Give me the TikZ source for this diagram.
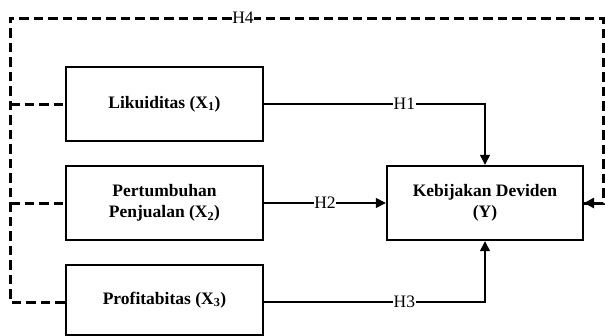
\documentclass[tikz,border=0pt]{standalone}
\usepackage{fontspec}
\setmainfont{Liberation Serif}
\usetikzlibrary{arrows.meta}
\begin{document}
\begin{tikzpicture}[x=1pt,y=-1pt,
  box/.style={draw,line width=2.4pt,minimum width=197pt,align=center,font=\fontsize{17.5}{21}\selectfont\bfseries,inner sep=0pt},
  conn/.style={line width=1.3pt},
  dashconn/.style={line width=3pt,dash pattern=on 9.5pt off 5pt},
  tip/.style={-{Triangle[length=10pt,width=10pt]}},
  hlab/.style={fill=white,inner sep=0.8pt,font=\fontsize{17.5}{19}\selectfont}]
\useasboundingbox (0,0) rectangle (605,335);
\node[box,minimum height=74pt] (x1) at (164.5,104) {Likuiditas (X\textsubscript{1})};
\node[box,minimum height=74pt] (x2) at (164.5,203) {Pertumbuhan\\Penjualan (X\textsubscript{2})};
\node[box,minimum height=70pt] (x3) at (164.5,300) {Profitabitas (X\textsubscript{3})};
\node[box,minimum width=196pt,minimum height=74pt] (y) at (485,203) {Kebijakan Deviden\\(Y)};
\coordinate (c1) at (485,104);
\coordinate (c3) at (485,302);
\coordinate (tl) at (10,18);
\coordinate (tr) at (603,18);
\coordinate (rr) at (603,203);
\coordinate (l1) at (10,104);
\coordinate (l2) at (10,203);
\coordinate (l3) at (10,302);
% solid connectors
\draw[conn,tip] (x1.east) -- node[hlab,pos=0.635]{H1} (c1) -- (y.north);
\draw[conn,tip] (x2.east) -- node[hlab,pos=0.5]{H2} (y.west);
\draw[conn,tip] (x3.east |- c3) -- node[hlab,pos=0.635]{H3} (c3) -- (y.south);
% dashed
\draw[dashconn] (x3.west |- l3) -- (l3) -- (tl) -- node[hlab,pos=0.393,inner sep=0.5pt]{H4} (tr) -- (rr) -- (y.east);
\fill (y.east) -- ++(10,-5.5) -- ++(0,11) -- cycle;
\draw[dashconn] (l1) -- (x1.west);
\draw[dashconn] (l2) -- (x2.west);
\end{tikzpicture}
\end{document}
